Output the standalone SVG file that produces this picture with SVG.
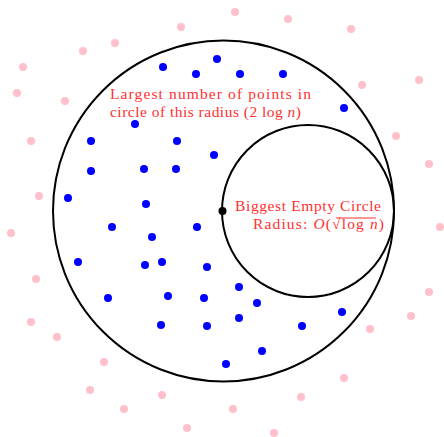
<svg xmlns="http://www.w3.org/2000/svg" width="444" height="437" viewBox="0 0 444 437">
<style>
.ring{fill:none;stroke:#000;stroke-width:2}
.b{fill:#0000ff}
.p{fill:#ffc0cb}
.lbl{fill:#ff3030;font-family:"Liberation Serif","DejaVu Serif",serif;font-size:15.5px}
.it{font-style:italic}
</style>
<rect width="444" height="437" fill="#fff"/>
<g id="pink-points" class="p">
<circle cx="181" cy="27" r="4"/><circle cx="115" cy="43" r="4"/><circle cx="83" cy="51" r="4"/>
<circle cx="23" cy="67" r="4"/><circle cx="17" cy="93" r="4"/><circle cx="65" cy="101" r="4"/>
<circle cx="31" cy="141" r="4"/><circle cx="39" cy="196" r="4"/>
<circle cx="235" cy="12" r="4"/><circle cx="288" cy="19" r="4"/><circle cx="351" cy="29" r="4"/>
<circle cx="362" cy="85" r="4"/><circle cx="419" cy="80" r="4"/><circle cx="396" cy="136" r="4"/>
<circle cx="429" cy="164" r="4"/>
<circle cx="11" cy="233" r="4"/><circle cx="36" cy="279" r="4"/><circle cx="31" cy="322" r="4"/>
<circle cx="57" cy="337" r="4"/><circle cx="104" cy="362" r="4"/><circle cx="90" cy="390" r="4"/>
<circle cx="162" cy="395" r="4"/><circle cx="124" cy="409" r="4"/><circle cx="187" cy="428" r="4"/>
<circle cx="440" cy="227" r="4"/><circle cx="429" cy="292" r="4"/><circle cx="411" cy="316" r="4"/>
<circle cx="370" cy="329" r="4"/><circle cx="344" cy="378" r="4"/><circle cx="301" cy="397" r="4"/>
<circle cx="233" cy="409" r="4"/><circle cx="274" cy="433" r="4"/>
</g>
<g id="big-circle"><circle class="ring" cx="223.5" cy="211" r="170.5"/></g>
<g id="empty-circle"><circle class="ring" cx="308" cy="211" r="86"/></g>
<g id="blue-points" class="b">
<circle cx="163" cy="67" r="4"/><circle cx="196" cy="74" r="4"/><circle cx="217" cy="59" r="4"/>
<circle cx="240" cy="74" r="4"/><circle cx="283" cy="74" r="4"/><circle cx="344" cy="108" r="4"/>
<circle cx="135" cy="124" r="4"/><circle cx="91" cy="141" r="4"/><circle cx="177" cy="141" r="4"/>
<circle cx="214" cy="155" r="4"/><circle cx="91" cy="171" r="4"/><circle cx="144" cy="169" r="4"/>
<circle cx="176" cy="169" r="4"/><circle cx="68" cy="198" r="4"/><circle cx="146" cy="204" r="4"/>
<circle cx="112" cy="227" r="4"/><circle cx="197" cy="227" r="4"/><circle cx="152" cy="237" r="4"/>
<circle cx="78" cy="262" r="4"/><circle cx="145" cy="265" r="4"/><circle cx="162" cy="262" r="4"/>
<circle cx="207" cy="267" r="4"/><circle cx="108" cy="298" r="4"/><circle cx="168" cy="296" r="4"/>
<circle cx="204" cy="298" r="4"/><circle cx="161" cy="325" r="4"/><circle cx="207" cy="326" r="4"/>
<circle cx="239" cy="287" r="4"/><circle cx="257" cy="303" r="4"/><circle cx="239" cy="318" r="4"/>
<circle cx="302" cy="326" r="4"/><circle cx="342" cy="312" r="4"/><circle cx="262" cy="351" r="4"/>
<circle cx="226" cy="364" r="4"/>
</g>
<g id="center-point"><circle cx="222.5" cy="211" r="4" fill="#000"/></g>
<g id="label-largest" class="lbl">
<text x="110" y="99" textLength="201" lengthAdjust="spacing">Largest number of points in</text>
<text x="110" y="117" textLength="191" lengthAdjust="spacing">circle of this radius (2 log <tspan class="it">n</tspan>)</text>
</g>
<g id="label-empty" class="lbl">
<text x="235" y="211" textLength="146" lengthAdjust="spacing">Biggest Empty Circle</text>
<text x="253" y="229" textLength="131" lengthAdjust="spacing">Radius: <tspan class="it">O</tspan>(√log <tspan class="it">n</tspan>)</text>
<line x1="336" y1="218" x2="376" y2="218" stroke="#ff3030" stroke-width="1"/>
</g>
</svg>
